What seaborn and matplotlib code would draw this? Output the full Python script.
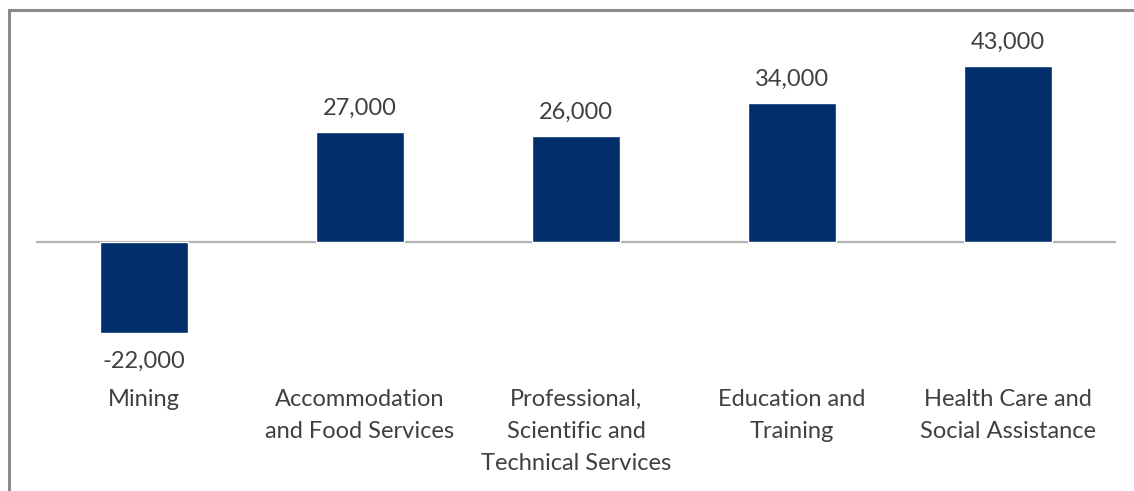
import matplotlib
matplotlib.use("Agg")
import matplotlib.pyplot as plt
import seaborn as sns
import pandas as pd
from matplotlib.patches import Rectangle

# data
industries = [
    "Mining",
    "Accommodation\nand Food Services",
    "Professional,\nScientific and\nTechnical Services",
    "Education and\nTraining",
    "Health Care and\nSocial Assistance",
]
employment_change = [-22000, 27000, 26000, 34000, 43000]

BAR_COLOR = "#002F6C"
TEXT_COLOR = "#404040"

sns.set_theme(style="white")
plt.rcParams["font.family"] = ["Lato", "DejaVu Sans"]

df = pd.DataFrame({"industry": industries, "change": employment_change})

fig = plt.figure(figsize=(11.34, 4.91), dpi=100)
ax = fig.add_axes([36 / 1134, (491 - 340) / 491, 1080 / 1134, 320 / 491])

sns.barplot(data=df, x="industry", y="change", color=BAR_COLOR,
            width=0.405, saturation=1, ax=ax)

ax.set_xlim(-0.5, len(industries) - 0.5)
ax.set_ylim(-23800, 54200)
ax.axhline(0, color="#b3b3b3", linewidth=1.6, zorder=0)

# value labels
for i, v in enumerate(employment_change):
    off = 17 if v >= 0 else -21
    ax.annotate(f"{v:,}", xy=(i, v), xytext=(0, off), textcoords="offset points",
                ha="center", va="center", fontsize=17, color=TEXT_COLOR)

ax.set_xlabel("")
ax.set_ylabel("")
ax.set_yticks([])
ax.tick_params(axis="x", length=0, pad=35.5)
for lbl in ax.get_xticklabels():
    lbl.set_fontsize(17)
    lbl.set_color(TEXT_COLOR)
    lbl.set_linespacing(1.64)
    lbl.set_verticalalignment("top")
sns.despine(ax=ax, left=True, bottom=True)

# chart frame (only top and left edges fall inside the image)
fig.patches.append(Rectangle((8.5 / 1134, -0.2), 1.5, 1.2 - 9.5 / 491,
                             transform=fig.transFigure, fill=False,
                             edgecolor="#8a8a8a", linewidth=2.2))

fig.savefig("out.png", dpi=100, facecolor="white")
